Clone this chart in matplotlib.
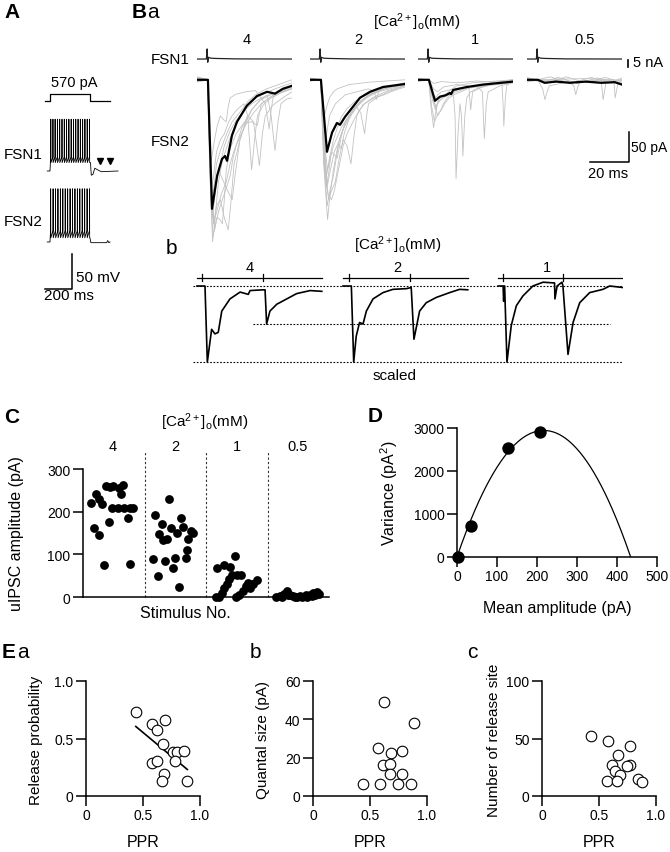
import matplotlib.pyplot as plt
import numpy as np

# ---------------- data ----------------
# A: current step (ms, pA) and spike times (ms) of both cells
step_ms = [-37, 0, 0, 300, 300, 445]
step_pA = [0, 0, 570, 570, 0, 0]
fsn1_spikes = [6, 22, 38, 55, 72, 89, 106, 123, 140, 157, 174, 191, 208, 225, 242, 259, 276, 293]
fsn2_spikes = [5, 23, 41, 59, 77, 95, 113, 131, 149, 167, 185, 203, 221, 239, 257, 275, 293]
fsn1_after = [(300, -58), (306, -76), (318, -75), (332, -66), (350, -68), (380, -71), (504, -70)]
fsn2_after = [(296, -64), (303, -71), (420, -71), (428, -68), (436, -71), (445, -70)]
arrow_ms = [370, 444]

# Ba: presynaptic action current (ms, nA) and uIPSCs (ms, pA)
ca_levels = ['4', '2', '1', '0.5']
fsn1_ac = [(0, 0), (4.8, 0), (5.2, 7.2), (5.5, -2.3), (5.9, 1.2), (7, 0.6), (10, 0.4), (20, 0.1), (48.7, 0)]

mean_4 = [(0, 0), (5.6, 0), (7.7, -215), (10.3, -160), (12.8, -132), (14.4, -127), (15.4, -135),
          (17.9, -93), (20.5, -70), (25.6, -43), (30.8, -27), (35.9, -20), (40, -23), (44, -15), (48.7, -10)]
mean_2 = [(0, 0), (5.6, 0), (8.7, -120), (11.3, -88), (13.8, -72), (15.4, -75), (17.9, -62),
          (22, -45), (25.6, -30), (30.8, -20), (37.4, -12), (48.7, -7)]
mean_1 = [(0, 0), (5.6, 0), (8.7, -35), (11.3, -28), (14, -26), (16.4, -22), (17, -24), (18, -17),
          (25.1, -12), (33.3, -8), (48.7, -3)]
mean_05 = [(0, 0), (5.6, 0), (9, -5), (15, -3), (22, -5), (30, -3), (38, -5), (45, -4), (48.7, -8)]

gray_4 = [
    [(0, 5), (5.5, 0), (6.5, -150), (8, -270), (9, -240), (11, -170), (13, -135), (16, -105), (19, -80), (22, -60), (26, -42), (30, -30), (35, -22), (40, -15), (48.7, -5)],
    [(0, -3), (5.5, 0), (6.8, -150), (8.5, -240), (10, -210), (12, -200), (14, -230), (16, -250), (17.5, -200), (19, -140), (22, -100), (25, -70), (28, -50), (32, -35), (37, -26), (42, -20), (48.7, -12)],
    [(0, 0), (5.5, 0), (6.5, -120), (7.5, -180), (8.5, -160), (10, -120), (12, -100), (14, -90), (16, -72), (18, -60), (21, -48), (24, -40), (26, -60), (28, -150), (29.5, -100), (31, -60), (34, -42), (38, -30), (43, -22), (48.7, -15)],
    [(0, 2), (5.5, 0), (7, -180), (9, -250), (11, -220), (13, -200), (15, -180), (17, -160), (18.5, -130), (20, -110), (23, -80), (26, -60), (29, -70), (32, -143), (33.5, -90), (35, -60), (39, -42), (44, -30), (48.7, -20)],
    [(0, 0), (5.5, 0), (6.3, -90), (7, -140), (8, -120), (9, -100), (10.5, -75), (12, -60), (13.5, -66), (15, -70), (16, -45), (17, -30), (20, -24), (25, -20), (30, -18), (35, -40), (37, -82), (38, -50), (39, -30), (43, -18), (48.7, -10)],
    [(0, 4), (5.5, 0), (6.8, -140), (8, -230), (9.5, -180), (11, -150), (13, -165), (15, -180), (18, -200), (19.5, -160), (22, -100), (25, -70), (28, -50), (32, -35), (36, -25), (38, -60), (40, -118), (41.5, -70), (43, -40), (46, -32), (48.7, -30)],
    [(0, -2), (5.5, 0), (6.5, -120), (7.8, -200), (9, -170), (10, -140), (12, -118), (14, -100), (16, -84), (18, -70), (20.5, -60), (23, -50), (26, -36), (30, -25), (35, -16), (40, -10), (48.7, 0)],
    [(0, 3), (5.5, 0), (6.8, -170), (8.2, -260), (9, -250), (10, -230), (11.5, -232), (13, -240), (14, -200), (15, -150), (17, -115), (20, -90), (24, -72), (28, -70), (31, -76), (32, -55), (33, -40), (37, -30), (42, -20), (48.7, -10)],
    [(0, -4), (5.5, 0), (7, -160), (8.5, -205), (10, -175), (12, -140), (14, -110), (17, -85), (20, -68), (24, -52), (28, -40), (33, -30), (38, -24), (44, -20), (48.7, -14)],
    [(0, 1), (5.5, 0), (7.2, -190), (8.8, -235), (10.5, -215), (12.5, -190), (15, -170), (17, -140), (19, -118), (22, -95), (25, -75), (29, -55), (33, -40), (38, -28), (43, -20), (48.7, -15)],
]
gray_2 = [
    [(0, 0), (5.5, 0), (7, -140), (9, -233), (10, -200), (12, -150), (14, -115), (16, -90), (19, -68), (22, -50), (26, -36), (30, -25), (38, -15), (48.7, -8)],
    [(0, 3), (5.5, 0), (7, -110), (8.5, -180), (10, -145), (11, -120), (12.5, -125), (14, -130), (16, -95), (18, -70), (21, -55), (25, -40), (29, -28), (34, -20), (40, -12), (48.7, -5)],
    [(0, -2), (5.5, 0), (7.5, -130), (9.5, -200), (11, -185), (13, -170), (15, -130), (17, -100), (19, -110), (21, -140), (22.5, -95), (24, -60), (27, -42), (32, -30), (40, -18), (48.7, -10)],
    [(0, 0), (5.5, 0), (6.8, -70), (8, -100), (9, -80), (10, -60), (13, -40), (18, -25), (24, -20), (30, -15), (33, -20), (34, -33), (35, -22), (36, -15), (42, -10), (48.7, -5)],
    [(0, 2), (5.5, 0), (7.2, -100), (9, -150), (10.5, -128), (12, -110), (14, -95), (16, -80), (18, -70), (20, -60), (23, -46), (26, -35), (30, -26), (35, -20), (42, -14), (48.7, -10)],
    [(0, 0), (5.5, 0), (7, -130), (8.8, -210), (10.5, -180), (12, -160), (13.5, -130), (15, -100), (17, -82), (19, -70), (21.5, -56), (24, -45), (26, -55), (28, -90), (29, -60), (30, -40), (34, -30), (40, -20), (48.7, -10)],
    [(0, -1), (5.5, 0), (6.5, -40), (7.5, -60), (8.5, -45), (10, -30), (12, -20), (14, -15), (20, -8), (30, -4), (48.7, 0)],
    [(0, 1), (5.5, 0), (7.5, -150), (9.2, -190), (11, -200), (12.5, -185), (14, -160), (15.5, -135), (17, -110), (19, -90), (22, -70), (25, -52), (28, -40), (33, -30), (38, -25), (43, -18), (48.7, -12)],
    [(0, 2), (5.5, 0), (7, -90), (8.5, -160), (10, -130), (12, -100), (14, -80), (16, -62), (19, -48), (23, -36), (28, -26), (34, -18), (41, -12), (48.7, -8)],
    [(0, -2), (5.5, 0), (7.2, -120), (9, -175), (10.5, -150), (12.5, -120), (14.5, -105), (16, -115), (17.5, -90), (20, -65), (24, -45), (29, -30), (36, -18), (43, -10), (48.7, -6)],
]
gray_1 = [
    [(0, 0), (5.5, 0), (6.8, -50), (8, -80), (9, -55), (10, -40), (12, -30), (14, -25), (17, -16), (20, -10), (28, -5), (48.7, 0)],
    [(0, 2), (5.5, 0), (7.5, -35), (9, -50), (10, -38), (11, -30), (14, -24), (18, -20), (19, -60), (19.5, -165), (20.5, -90), (21.5, -40), (22.3, -60), (23, -127), (24, -60), (25, -30), (27, -20), (30, -15), (38, -8), (48.7, -5)],
    [(0, -2), (5.5, 0), (7.5, -20), (9, -30), (10.5, -24), (12, -20), (20, -14), (30, -10), (33, -20), (34, -98), (35, -40), (36, -20), (42, -10), (48.7, -5)],
    [(0, 0), (5.5, 0), (7, -45), (8.5, -70), (10, -58), (12, -50), (14, -38), (16, -30), (19, -24), (22, -20), (26, -14), (30, -10), (38, -7), (43, -6), (43.6, -40), (44, -77), (44.8, -30), (45.5, -10), (48.7, 0)],
    [(0, 0), (5.5, 0), (6, -15), (8, -30), (10, -60), (11.5, -52), (13, -40), (15, -30), (18, -20), (22, -14), (28, -10), (38, -5), (48.7, 0)],
    [(0, 1), (5.5, 0), (8, -6), (12, -3), (20, -5), (30, -2), (40, -4), (48.7, 0)],
    [(0, -3), (5.5, 0), (7.5, -30), (9, -45), (11, -35), (14, -28), (18, -22), (24, -15), (30, -12), (40, -8), (48.7, -4)],
    [(0, 2), (5.5, 0), (8, -15), (10, -20), (13, -12), (20, -8), (26, -10), (27, -50), (28, -20), (35, -8), (48.7, -2)],
]
gray_05 = [
    [(0, 3), (5.5, 0), (8, -15), (9.2, -33), (10.5, -18), (11.5, -10), (20, -4), (48.7, 0)],
    [(0, -2), (20, 0), (24, -10), (25, -25), (26, -12), (27, -5), (38, 0), (39, -33), (40.5, -5), (48.7, 0)],
    [(0, 0), (30, 2), (44.5, 0), (45.2, -30), (46.5, -8), (48.7, 0)],
    [(0, 4), (10, -6), (20, 5), (30, -5), (40, 4), (48.7, -4)],
    [(0, -4), (12, 5), (22, -6), (33, 4), (42, -5), (48.7, 3)],
    [(0, 2), (8, -4), (16, 4), (26, -6), (36, 3), (48.7, -6)],
]

# Bb: scaled paired-pulse traces (ms, normalised amplitude) and stimulus times
bb_levels = ['4', '2', '1']
bb_4 = [(0, 0), (4.1, 0), (5.3, -1.0), (7.5, -0.57), (9.2, -0.63), (10.9, -0.61), (12.7, -0.33), (16.9, -0.17),
        (22.1, -0.08), (26.3, -0.11), (27.2, -0.06), (34, -0.05), (34.9, -0.05), (35.7, -0.5), (37.4, -0.33),
        (40.9, -0.24), (46, -0.17), (51.1, -0.1), (58, -0.06), (64, -0.07)]
bb_2 = [(0, 0), (4.3, 0), (5.5, -1.0), (6.8, -0.66), (8.5, -0.48), (10.3, -0.5), (12, -0.33), (15.4, -0.17),
        (20.5, -0.087), (25.6, -0.044), (32.5, -0.035), (35, -0.02), (36.4, -0.7), (39.3, -0.33), (42.7, -0.22),
        (47.9, -0.15), (54.7, -0.087), (59.8, -0.044), (64, -0.05)]
bb_1 = [(0, 0), (2.6, 0), (2.9, -0.2), (3.2, 0), (3.4, 0), (4.6, -1.0), (6.8, -0.52), (9.4, -0.26), (12.8, -0.13),
        (17.9, 0), (23.1, 0.05), (29, 0.04), (29.2, -0.17), (30.3, 0), (32.8, 0.05), (33.3, 0), (35.9, -0.9),
        (38.5, -0.48), (41.9, -0.22), (47, -0.087), (53.8, -0.044), (57.3, 0), (64, -0.02)]
bb_stim = [(2.6, 33.9), (3.1, 34.4), (2.6, 33.3)]
ppr_4mM = 0.5

# C: uIPSC amplitude per stimulus
c_stim_4 = [3.1, 5.2, 6.6, 7.6, 9.3, 11.0, 12.3, 14.5, 16.4, 15.3, 11.7, 14.3, 16.8, 19.1, 20.4, 4.6, 6.6, 10.7, 18.2, 8.5, 19.1]
c_amp_4 = [221, 241, 230, 217, 259, 257, 259, 255, 263, 241, 209, 209, 209, 209, 209, 162, 145, 176, 184, 74, 78]
c_stim_2 = [29.3, 35.1, 32.0, 30.8, 32.4, 34.0, 35.8, 38.3, 39.8, 40.8, 43.9, 44.6, 42.8, 42.2, 41.7, 37.4, 28.6, 33.3, 30.4, 36.5, 39.0]
c_amp_2 = [192, 229, 170, 147, 133, 137, 162, 149, 184, 165, 154, 149, 136, 110, 92, 92, 90, 84, 49, 68, 23]
c_stim_1 = [54.6, 57.4, 59.8, 61.8, 55.4, 56.4, 57.3, 58.4, 59.5, 60.7, 62.7, 64.1, 62.2, 63.5, 64.9, 66.3, 67.9, 69.2, 70.6, 67.2, 68.6, 54.1]
c_amp_1 = [68, 74, 70, 96, 1, 10, 20, 31, 43, 51, 52, 51, 1, 5, 13, 26, 21, 31, 41, 33, 31, 1]
c_stim_05 = [78.5, 80.1, 81.7, 82.8, 84.1, 85.5, 87.1, 88.9, 90.7, 92.3, 93.6, 95.0, 96.1, 91.2, 86.2, 80.8, 88.2, 93.0, 83.4, 94.3]
c_amp_05 = [0, 2, 8, 13, 5, 2, 0, 0, 4, 5, 10, 12, 7, 0, 0, 0, 2, 2, 4, 5]
stim_per_block = 25

# D: variance-mean
d_mean = [3, 34, 128, 208]
d_var = [10, 714, 2530, 2910]

# E: parameters vs PPR
ea_ppr = [0.437, 0.576, 0.693, 0.620, 0.678, 0.760, 0.801, 0.862, 0.781, 0.576, 0.620, 0.684, 0.664, 0.889]
ea_prob = [0.728, 0.629, 0.664, 0.578, 0.448, 0.379, 0.382, 0.388, 0.304, 0.291, 0.304, 0.190, 0.132, 0.132]
eb_ppr = [0.623, 0.886, 0.573, 0.681, 0.778, 0.617, 0.675, 0.675, 0.784, 0.436, 0.588, 0.749, 0.857]
eb_q = [48.9, 37.9, 24.9, 22.4, 23.5, 16.2, 16.7, 11.5, 11.6, 6.3, 6.1, 6.3, 6.3]
ec_ppr = [0.427, 0.582, 0.772, 0.670, 0.611, 0.772, 0.743, 0.640, 0.684, 0.567, 0.661, 0.845, 0.874]
ec_n = [52.4, 48.1, 43.7, 35.7, 27.2, 27.2, 26.4, 21.4, 18.3, 13.3, 13.3, 14.8, 11.9]

# ---------------- figure ----------------
plt.rcParams['font.family'] = ['Liberation Sans', 'DejaVu Sans']
plt.rcParams['mathtext.fontset'] = 'custom'
plt.rcParams['mathtext.rm'] = 'Liberation Sans'
plt.rcParams['mathtext.it'] = 'Liberation Sans:italic'
plt.rcParams['mathtext.bf'] = 'Liberation Sans:bold'
plt.rcParams['axes.linewidth'] = 1.1

W, H = 670, 853
fig = plt.figure(figsize=(W / 100, H / 100), dpi=100)
CA = r'[Ca$^{2+}$]$_{\rm o}$(mM)'


def box(left, top, width, height):
    # axes placed in pixel coordinates (origin top-left)
    return fig.add_axes([left / W, 1 - (top + height) / H, width / W, height / H])


def txt(x, y, s, size=11, ha='center', va='center', **kw):
    fig.text(x / W, 1 - y / H, s, fontsize=size, ha=ha, va=va, **kw)


def trace(ax, pts, **kw):
    t, v = np.array(pts, dtype=float).T
    ax.plot(t, v, **kw)


def spike_train(spikes, v_rest, v_thr, v_peak, v_ahp, after):
    t, v = [-20, 0], [v_rest, v_rest]
    for s in spikes:
        t += [s - 0.8, s, s + 1.0]
        v += [v_thr, v_peak, v_ahp]
    at, av = np.array(after, dtype=float).T
    return np.r_[t, at], np.r_[v, av]


def panel_letter(x, y, big, small=''):
    txt(x, y, big, size=15, ha='left', weight='bold')
    if small:
        txt(x + 15, y, small, size=15, ha='left')


# ---- A ----
panel_letter(4, 13, 'A')
axA0 = box(40, 88, 90, 18)
axA0.plot(step_ms, step_pA, color='k', lw=0.9)
axA0.set_xlim(-74, 593)
axA0.set_ylim(-326, 1140)
axA0.axis('off')

axA1 = box(40, 112, 90, 70)
t1, v1 = spike_train(fsn1_spikes, -70, -50, 4, -58, fsn1_after)
axA1.plot(t1, v1, color='k', lw=0.6)
axA1.plot(arrow_ms, [-56] * len(arrow_ms), 'kv', ms=4.5)
axA1.set_xlim(-74, 593)
axA1.set_ylim(-84.3, 15.7)
axA1.axis('off')

axA2 = box(40, 182, 90, 70)
t2, v2 = spike_train(fsn2_spikes, -70, -54, 6, -64, fsn2_after)
axA2.plot(t2, v2, color='k', lw=0.6)
axA2.plot([163, 163, -37], [-87, -137, -137], color='k', lw=1.1, clip_on=False)
axA2.set_xlim(-74, 593)
axA2.set_ylim(-82.9, 17.1)
axA2.axis('off')

txt(74, 83, '570 pA', size=10.5)
txt(23, 155, 'FSN1')
txt(23, 222, 'FSN2')
txt(76, 278, '50 mV', ha='left')
txt(44, 296, '200 ms', ha='left')

# ---- Ba ----
panel_letter(132, 13, 'B', 'a')
txt(417, 22, CA)
txt(190, 60, 'FSN1', ha='right')
txt(190, 142, 'FSN2', ha='right')
ba_start_px = [197, 310, 418, 527]
ba_label_px = [247, 358, 475, 585]
ba_gray = [gray_4, gray_2, gray_1, gray_05]
ba_mean = [mean_4, mean_2, mean_1, mean_05]
for start, lab_x, lev, grays, mean in zip(ba_start_px, ba_label_px, ca_levels, ba_gray, ba_mean):
    txt(lab_x, 40, lev, size=10.5)
    ax1 = box(start, 45, 95, 25)
    trace(ax1, fsn1_ac, color='#222222', lw=0.9)
    ax1.set_xlim(0, 48.7)
    ax1.set_ylim(-7.1, 10.7)
    ax1.axis('off')
    ax2 = box(start, 70, 95, 180)
    for g in grays:
        trace(ax2, g, color='#c2c2c2', lw=0.6)
    trace(ax2, mean, color='k', lw=1.6)
    ax2.set_xlim(0, 48.7)
    ax2.set_ylim(-282, 18)
    ax2.axis('off')

# scale bars on the last column
ax1.plot([51.8, 51.8], [-0.7, -5.7], color='k', lw=1.2, clip_on=False)
txt(633, 63, '5 nA', ha='left', size=10.5)
ax2.plot([32.3, 52.3, 52.3], [-136.7, -136.7, -86.7], color='k', lw=1.1, clip_on=False)
txt(631, 148, '50 pA', ha='left', size=10)
txt(608, 174, '20 ms', size=10.5)

# ---- Bb ----
txt(166, 249, 'b', size=15, ha='left')
txt(398, 245, CA)
axBb = box(193, 262, 430, 108)
bb_offset_ms = [2.05, 76.9, 156.4]
bb_label_px = [250, 397, 547]
dot = (0, (1.5, 1.5))
axBb.hlines([0, -1], 0, 220.5, colors='k', lw=0.8, linestyles=dot)
axBb.hlines(-ppr_4mM, 30.8, 213.8, colors='k', lw=0.8, linestyles=dot)
for off, pts, stims, lab_x, lev in zip(bb_offset_ms, [bb_4, bb_2, bb_1], bb_stim, bb_label_px, bb_levels):
    t, v = np.array(pts, dtype=float).T
    axBb.plot(t + off, v, color='k', lw=1.2)
    axBb.plot([off, off + 64], [0.105, 0.105], color='k', lw=0.9)
    for s in stims:
        axBb.plot([off + s, off + s], [0.07, 0.16], color='k', lw=0.9)
    txt(lab_x, 268, lev, size=10.5)
axBb.set_xlim(0, 220.5)
axBb.set_ylim(-1.092, 0.329)
axBb.axis('off')
txt(395, 376, 'scaled')


def style(ax):
    for side in ['top', 'right']:
        ax.spines[side].set_visible(False)
    ax.tick_params(direction='out', length=7, width=1.1, labelsize=10, pad=2)


# ---- C ----
panel_letter(4, 418, 'C')
txt(205, 422, CA)
for x, lev in zip([113, 175, 237, 298], ca_levels):
    txt(x, 447, lev, size=10.5)
axC = box(83, 470, 246, 128)
for xs, ys in [(c_stim_4, c_amp_4), (c_stim_2, c_amp_2), (c_stim_1, c_amp_1), (c_stim_05, c_amp_05)]:
    axC.scatter(xs, ys, s=40, color='k', zorder=3, clip_on=False, linewidths=0)
for edge in range(stim_per_block, 4 * stim_per_block, stim_per_block):
    axC.plot([edge, edge], [0, 340], color='#333333', lw=0.8, ls=(0, (2, 2)), clip_on=False)
axC.set_xlim(0, 4 * stim_per_block)
axC.set_ylim(0, 300)
axC.set_xticks([])
axC.set_yticks([0, 100, 200, 300])
style(axC)
axC.spines['left'].set_bounds(0, 300)
txt(185, 614, 'Stimulus No.', size=11.5)
txt(17, 534, 'uIPSC amplitude (pA)', size=11.5, rotation=90)

# ---- D ----
panel_letter(368, 417, 'D')
axD = box(457, 429, 200, 129)
X = np.column_stack([d_mean, np.square(d_mean)])
(q_fit, b_fit), *_ = np.linalg.lstsq(X, np.array(d_var, dtype=float), rcond=None)
i_fit = np.linspace(0, -q_fit / b_fit, 200)
axD.plot(i_fit, q_fit * i_fit + b_fit * i_fit ** 2, color='k', lw=0.9)
axD.scatter(d_mean, d_var, s=80, color='k', zorder=3, clip_on=False, linewidths=0)
axD.set_xlim(0, 500)
axD.set_ylim(0, 3000)
axD.set_xticks(range(0, 501, 100))
axD.set_yticks(range(0, 3001, 1000))
style(axD)
txt(557, 609, 'Mean amplitude (pA)', size=11.5)
txt(389, 493, r'Variance (pA$^2$)', size=11.5, rotation=90)

# ---- E ----
panel_letter(2, 652, 'E', 'a')
txt(250, 652, 'b', size=15, ha='left')
txt(467, 653, 'c', size=15, ha='left')

e_panels = [
    (86, ea_ppr, ea_prob, 1.0, [0, 0.5, 1.0], ['0', '0.5', '1.0'], 'Release probability', 36),
    (313, eb_ppr, eb_q, 60, [0, 20, 40, 60], ['0', '20', '40', '60'], 'Quantal size (pA)', 263),
    (542, ec_ppr, ec_n, 100, [0, 50, 100], ['0', '50', '100'], 'Number of release site', 494),
]
for left, xs, ys, ymax, yt, ytl, ylab, ylab_x in e_panels:
    ax = box(left, 682, 114, 115)
    ax.scatter(xs, ys, s=58, facecolor='white', edgecolor='k', linewidths=0.8, zorder=3, clip_on=False)
    ax.set_xlim(0, 1.0)
    ax.set_ylim(0, ymax)
    ax.set_xticks([0, 0.5, 1.0])
    ax.set_xticklabels(['0', '0.5', '1.0'])
    ax.set_yticks(yt)
    ax.set_yticklabels(ytl)
    style(ax)
    txt(left + 57, 843, 'PPR', size=11.5)
    txt(ylab_x, 740, ylab, size=11, rotation=90)
    if left == 86:
        slope, icpt = np.polyfit(xs, ys, 1)
        xr = np.array([min(xs), max(xs)])
        ax.plot(xr, slope * xr + icpt, color='k', lw=1.2, zorder=2)

fig.savefig('out.png', dpi=100)
